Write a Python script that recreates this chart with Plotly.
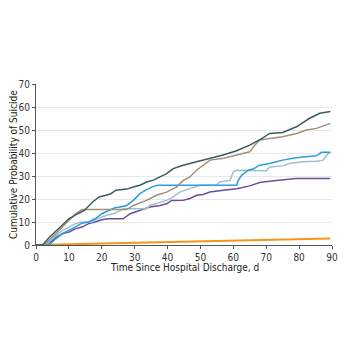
import plotly.graph_objects as go

dark_days = [0, 2, 4, 6, 8, 10, 12.7, 14.7, 17.2, 19.2, 21.3, 22.8, 24.3, 25.5, 27.6, 29.6, 31.6, 33.6, 35.7, 37.7, 39.7, 41.7, 44.8, 48.8, 52.9, 56.9, 61, 65, 69, 71, 75, 79.2, 83.2, 86.3, 89.5]
dark_vals = [0, 0, 3.3, 6.1, 9, 11.4, 13.6, 15, 18.7, 20.9, 21.6, 22.3, 23.8, 24.1, 24.3, 25.2, 26, 27.4, 28.2, 29.6, 31, 33.2, 34.7, 36.2, 37.7, 39.1, 41, 43.4, 46.6, 48.5, 48.9, 51.4, 55.1, 57.3, 58]

brown_days = [0, 2.5, 6, 8, 10, 12, 14, 27.6, 29.6, 31.6, 33.6, 36.6, 39.7, 41.7, 42.7, 44.8, 46.8, 48.8, 50.8, 52.9, 57, 61, 63, 65, 66.5, 68, 71, 75, 79.2, 82.2, 85.3, 89.5]
brown_vals = [0, 0, 4.9, 7.8, 10.7, 13.6, 15.4, 15.4, 17.2, 18.2, 19.4, 21.6, 23, 24.5, 25.2, 28.1, 29.6, 32.5, 34.7, 36.9, 37.7, 39.1, 39.9, 40.5, 43.4, 45.6, 46.3, 47.1, 48.5, 50, 50.7, 52.9]

blue_days = [0, 4, 6, 8, 10, 12, 14, 16, 18, 20, 22, 24, 25.5, 27.6, 29.6, 31.6, 33.6, 35.7, 37, 61, 61.5, 62.5, 64.5, 66, 68, 71, 75, 79, 85.3, 86.8, 89.5]
blue_vals = [0, 0, 2.7, 4.9, 6.3, 7.8, 9.5, 10, 11.4, 13.6, 15, 16.2, 16.5, 17.2, 19.4, 22.3, 24.1, 25.5, 26, 26, 28.1, 30.3, 32.5, 33, 34.7, 35.4, 36.9, 37.9, 38.8, 40.3, 40.3]

light_days = [0, 3, 6, 8, 10, 12, 14, 17, 18, 20, 22, 23.5, 25.5, 26.5, 33.6, 34.6, 37.7, 39.7, 41.7, 43.7, 46.8, 49.8, 54.8, 55.9, 59, 60, 61, 70, 71, 75, 77, 81, 85.3, 87.3, 88.8, 89.5]
light_vals = [0, 0, 4.1, 6.3, 7.8, 9.3, 10, 10, 11, 12.2, 13.2, 13.6, 14.8, 15.8, 15.8, 17.2, 18.7, 19.4, 20.9, 23, 24.5, 26, 26, 27.4, 28.1, 31.8, 32.5, 32.3, 33.9, 34.4, 35.4, 36.2, 36.4, 36.9, 39.8, 40.3]

purple_days = [0, 3.5, 6, 8, 10, 12, 14, 16, 18, 20, 22, 26.5, 28.6, 31.6, 34.6, 37.7, 39.7, 41.2, 44.8, 46.8, 48.8, 50.8, 52.9, 56.9, 61, 65, 68, 71, 75, 79, 89.5]
purple_vals = [0, 0, 3.3, 4.9, 5.6, 7, 7.8, 9.3, 10, 11, 11.4, 11.4, 13.6, 15, 16.5, 17.2, 17.9, 19.4, 19.5, 20.2, 21.6, 22, 23, 23.8, 24.5, 25.7, 27.2, 27.7, 28.2, 28.9, 28.9]

orange_days = [0, 3, 10, 20, 30, 40, 50, 60, 70, 80, 89.5]
orange_vals = [0, 0, 0.3, 0.6, 0.9, 1.2, 1.5, 1.7, 2.0, 2.4, 2.8]

x_ticks = [0, 10, 20, 30, 40, 50, 60, 70, 80, 90]
y_ticks = [0, 10, 20, 30, 40, 50, 60, 70]
x_title = "Time Since Hospital Discharge, d"
y_title = "Cumulative Probability of Suicide"

series = [
    (orange_days, orange_vals, "#f7941d", 2.0),
    (purple_days, purple_vals, "#6b4f99", 1.5),
    (light_days, light_vals, "#9dbfcf", 1.5),
    (blue_days, blue_vals, "#2b9de0", 1.5),
    (brown_days, brown_vals, "#a1907a", 1.5),
    (dark_days, dark_vals, "#3d5c61", 1.5),
]

fig = go.Figure()
for xs, ys, col, w in series:
    fig.add_trace(go.Scatter(x=xs, y=ys, mode="lines", line=dict(color=col, width=w),
                             showlegend=False, hoverinfo="skip"))

font_family = "DejaVu Sans Condensed, Liberation Sans Narrow, Liberation Sans, Arial, sans-serif"
fig.update_layout(
    width=350, height=350,
    margin=dict(l=36, r=18, t=84, b=105),
    paper_bgcolor="white", plot_bgcolor="white",
    font=dict(family=font_family, size=10, color="#333333"),
    showlegend=False,
    annotations=[
        dict(text=x_title, xref="paper", yref="paper", x=0.5, y=-0.14,
             xanchor="center", yanchor="middle", showarrow=False,
             font=dict(size=10, color="#222222")),
        dict(text=y_title, xref="paper", yref="paper", x=-0.076, y=0.5,
             xanchor="center", yanchor="middle", showarrow=False, textangle=-90,
             font=dict(size=10, color="#222222")),
    ],
)
fig.update_xaxes(
    range=[0, 90], tickvals=x_ticks, ticktext=[str(v) for v in x_ticks],
    showgrid=False, zeroline=False, showline=True, linecolor="#555555", linewidth=1,
    ticks="outside", ticklen=3, tickcolor="#555555", automargin=False,
    tickfont=dict(size=10, color="#333333"),
)
fig.update_yaxes(
    range=[0, 70], tickvals=y_ticks, ticktext=[str(v) for v in y_ticks],
    showgrid=True, gridcolor="#e8e8e8", gridwidth=1, zeroline=False,
    showline=True, linecolor="#555555", linewidth=1,
    ticks="outside", ticklen=3, tickcolor="#555555", automargin=False,
    tickfont=dict(size=10, color="#333333"),
)

fig.write_html("out.html")
